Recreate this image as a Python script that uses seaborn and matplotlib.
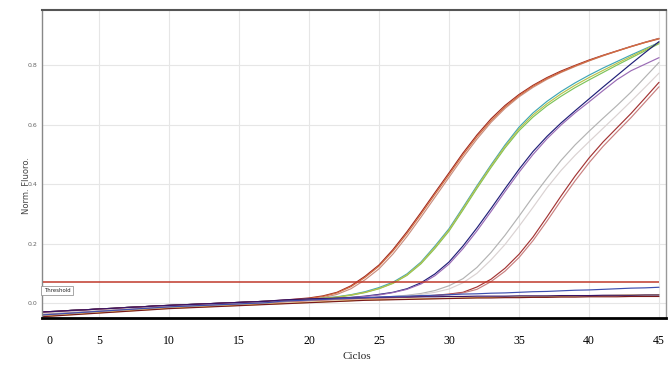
import numpy as np
import pandas as pd
import matplotlib
matplotlib.use("Agg")
import matplotlib.pyplot as plt
import seaborn as sns

# ---------------- data ----------------
cycles = list(range(1, 46))

A1 = [-0.030, -0.028, -0.025, -0.023, -0.020, -0.018, -0.015, -0.013, -0.010, -0.008, -0.006, -0.004, -0.002, 0.000, 0.002, 0.004, 0.006,
      0.009, 0.013, 0.017, 0.024, 0.036, 0.058, 0.090, 0.128, 0.180, 0.240, 0.305, 0.372, 0.438, 0.505, 0.566, 0.620, 0.665, 0.702,
      0.733, 0.759, 0.781, 0.800, 0.818, 0.834, 0.849, 0.864, 0.878, 0.891]
A2 = [-0.040, -0.037, -0.034, -0.031, -0.028, -0.025, -0.022, -0.019, -0.016, -0.013, -0.011, -0.009, -0.007, -0.005, -0.003, -0.001, 0.001,
      0.005, 0.008, 0.012, 0.018, 0.029, 0.048, 0.078, 0.115, 0.165, 0.224, 0.289, 0.356, 0.423, 0.490, 0.552, 0.608, 0.655, 0.694,
      0.726, 0.753, 0.776, 0.796, 0.815, 0.832, 0.848, 0.863, 0.877, 0.890]
A3 = [-0.035, -0.032, -0.030, -0.027, -0.024, -0.021, -0.019, -0.016, -0.013, -0.011, -0.009, -0.007, -0.005, -0.003, -0.001, 0.001, 0.003,
      0.006, 0.010, 0.015, 0.022, 0.034, 0.055, 0.086, 0.124, 0.175, 0.234, 0.299, 0.366, 0.432, 0.499, 0.560, 0.614, 0.660, 0.698,
      0.730, 0.756, 0.778, 0.798, 0.816, 0.833, 0.848, 0.863, 0.877, 0.889]
B1 = [-0.030, -0.028, -0.025, -0.023, -0.020, -0.018, -0.015, -0.013, -0.010, -0.008, -0.006, -0.004, -0.002, 0.000, 0.002, 0.004, 0.006,
      0.008, 0.010, 0.013, 0.016, 0.021, 0.028, 0.038, 0.052, 0.070, 0.098, 0.138, 0.192, 0.250, 0.322, 0.395, 0.465, 0.532, 0.592,
      0.640, 0.679, 0.712, 0.741, 0.767, 0.791, 0.813, 0.835, 0.856, 0.877]
B2 = [-0.040, -0.037, -0.034, -0.031, -0.028, -0.025, -0.022, -0.019, -0.016, -0.013, -0.011, -0.009, -0.007, -0.005, -0.003, -0.001, 0.001,
      0.004, 0.007, 0.010, 0.014, 0.019, 0.026, 0.035, 0.048, 0.066, 0.093, 0.132, 0.184, 0.242, 0.313, 0.386, 0.456, 0.522, 0.580,
      0.626, 0.664, 0.696, 0.725, 0.751, 0.776, 0.801, 0.825, 0.849, 0.873]
B3 = [-0.035, -0.032, -0.030, -0.027, -0.024, -0.021, -0.019, -0.016, -0.013, -0.011, -0.009, -0.007, -0.005, -0.003, -0.001, 0.001, 0.003,
      0.006, 0.009, 0.012, 0.016, 0.020, 0.027, 0.036, 0.049, 0.067, 0.095, 0.135, 0.188, 0.246, 0.318, 0.391, 0.461, 0.527, 0.586,
      0.633, 0.671, 0.704, 0.733, 0.759, 0.783, 0.807, 0.830, 0.853, 0.876]
C1 = [-0.030, -0.028, -0.025, -0.023, -0.020, -0.018, -0.015, -0.013, -0.010, -0.008, -0.006, -0.004, -0.002, 0.000, 0.002, 0.004, 0.006,
      0.008, 0.010, 0.012, 0.014, 0.016, 0.019, 0.023, 0.029, 0.036, 0.048, 0.068, 0.098, 0.138, 0.192, 0.253, 0.318, 0.385, 0.450,
      0.510, 0.561, 0.606, 0.647, 0.687, 0.727, 0.766, 0.805, 0.843, 0.880]
C2 = [-0.035, -0.032, -0.030, -0.027, -0.024, -0.021, -0.019, -0.016, -0.013, -0.011, -0.009, -0.007, -0.005, -0.003, -0.001, 0.001, 0.003,
      0.006, 0.008, 0.011, 0.013, 0.015, 0.018, 0.022, 0.027, 0.035, 0.046, 0.064, 0.092, 0.131, 0.183, 0.243, 0.308, 0.375, 0.440,
      0.500, 0.553, 0.599, 0.640, 0.677, 0.715, 0.752, 0.782, 0.804, 0.826]
D1 = [-0.040, -0.037, -0.034, -0.031, -0.028, -0.025, -0.022, -0.019, -0.016, -0.013, -0.011, -0.009, -0.007, -0.005, -0.003, -0.001, 0.001,
      0.004, 0.006, 0.009, 0.011, 0.013, 0.015, 0.017, 0.019, 0.022, 0.026, 0.032, 0.042, 0.058, 0.082, 0.120, 0.170, 0.228, 0.292,
      0.358, 0.420, 0.480, 0.532, 0.578, 0.622, 0.665, 0.710, 0.760, 0.810]
D2 = [-0.035, -0.032, -0.030, -0.027, -0.024, -0.021, -0.019, -0.016, -0.013, -0.011, -0.009, -0.007, -0.005, -0.003, -0.001, 0.001, 0.003,
      0.005, 0.007, 0.009, 0.011, 0.013, 0.015, 0.017, 0.019, 0.021, 0.024, 0.029, 0.036, 0.047, 0.068, 0.100, 0.145, 0.197, 0.258,
      0.322, 0.388, 0.446, 0.497, 0.543, 0.588, 0.633, 0.679, 0.726, 0.774]
E1 = [-0.030, -0.028, -0.025, -0.023, -0.020, -0.018, -0.015, -0.013, -0.010, -0.008, -0.006, -0.004, -0.002, 0.000, 0.002, 0.004, 0.006,
      0.008, 0.010, 0.012, 0.013, 0.014, 0.015, 0.016, 0.018, 0.019, 0.021, 0.023, 0.026, 0.030, 0.036, 0.054, 0.080, 0.117, 0.164,
      0.222, 0.290, 0.360, 0.427, 0.488, 0.542, 0.590, 0.638, 0.690, 0.743]
E2 = [-0.040, -0.037, -0.034, -0.031, -0.028, -0.025, -0.022, -0.019, -0.016, -0.013, -0.011, -0.009, -0.007, -0.005, -0.003, -0.001, 0.001,
      0.003, 0.005, 0.007, 0.009, 0.011, 0.013, 0.014, 0.016, 0.017, 0.019, 0.021, 0.024, 0.028, 0.034, 0.046, 0.072, 0.107, 0.153,
      0.210, 0.276, 0.345, 0.411, 0.472, 0.527, 0.576, 0.624, 0.676, 0.728]
F1 = [-0.040, -0.037, -0.034, -0.031, -0.028, -0.025, -0.022, -0.019, -0.016, -0.013, -0.011, -0.009, -0.007, -0.005, -0.003, -0.001, 0.001,
      0.006, 0.008, 0.010, 0.012, 0.014, 0.016, 0.018, 0.020, 0.022, 0.023, 0.025, 0.026, 0.028, 0.030, 0.031, 0.033, 0.034, 0.036,
      0.038, 0.039, 0.041, 0.043, 0.044, 0.046, 0.048, 0.050, 0.051, 0.053]
F2 = [-0.030, -0.028, -0.025, -0.023, -0.020, -0.018, -0.015, -0.013, -0.010, -0.008, -0.006, -0.004, -0.002, 0.000, 0.002, 0.004, 0.006,
      0.010, 0.012, 0.014, 0.015, 0.016, 0.017, 0.018, 0.019, 0.020, 0.020, 0.021, 0.021, 0.022, 0.022, 0.023, 0.023, 0.023, 0.024,
      0.024, 0.024, 0.025, 0.025, 0.025, 0.026, 0.026, 0.026, 0.027, 0.027]
F3 = [-0.045, -0.042, -0.039, -0.036, -0.033, -0.030, -0.027, -0.024, -0.021, -0.018, -0.016, -0.014, -0.012, -0.010, -0.008, -0.006, -0.004,
      -0.002, 0.000, 0.002, 0.004, 0.006, 0.008, 0.010, 0.011, 0.012, 0.013, 0.014, 0.015, 0.016, 0.017, 0.018, 0.019, 0.020, 0.021,
      0.021, 0.022, 0.022, 0.023, 0.024, 0.025, 0.026, 0.027, 0.027, 0.028]
F4 = [-0.046, -0.043, -0.040, -0.037, -0.034, -0.031, -0.028, -0.025, -0.022, -0.019, -0.017, -0.015, -0.013, -0.011, -0.009, -0.007, -0.005,
      -0.003, -0.001, 0.001, 0.003, 0.005, 0.007, 0.009, 0.010, 0.011, 0.012, 0.013, 0.014, 0.015, 0.016, 0.017, 0.017, 0.018, 0.018,
      0.019, 0.019, 0.020, 0.020, 0.021, 0.021, 0.021, 0.022, 0.022, 0.022]

threshold = 0.072
x_tick_values = [5, 10, 15, 20, 25, 30, 35, 40, 45]
x_tick_labels = ["5", "10", "15", "20", "25", "30", "35", "40", "45"]
zero_label_pos = 1.43
y_tick_values = [0.0, 0.2, 0.4, 0.6, 0.8]
y_tick_labels = ["0.0", "0.2", "0.4", "0.6", "0.8"]

series = {"A1": A1, "A2": A2, "A3": A3, "B1": B1, "B2": B2, "B3": B3,
          "C1": C1, "C2": C2, "D1": D1, "D2": D2, "E1": E1, "E2": E2,
          "F3": F3, "F4": F4, "F2": F2, "F1": F1}
palette = {"A1": "#9e2a22", "A2": "#c98f80", "A3": "#d2693e",
           "B1": "#3fa6b5", "B2": "#7cc35a", "B3": "#b9c24a",
           "C1": "#1f1f78", "C2": "#9a6bb5",
           "D1": "#b3b3b3", "D2": "#dad2d2",
           "E1": "#a33434", "E2": "#c98080",
           "F1": "#3d4fb0", "F2": "#3a1466", "F3": "#e6c95a", "F4": "#7a1a1a"}

rows = []
for name, vals in series.items():
    for c, v in zip(cycles, vals):
        rows.append((name, c, v))
df = pd.DataFrame(rows, columns=["well", "cycle", "value"])

# ---------------- figure ----------------
sns.set_style("white")
fig = plt.figure(figsize=(6.71, 3.66), dpi=100)
ax = fig.add_axes([42/671, 48/366, 624/671, 308/366])

sns.lineplot(data=df, x="cycle", y="value", hue="well", hue_order=list(series.keys()),
             palette=palette, legend=False, linewidth=0.85, estimator=None, sort=False, ax=ax)

ax.hlines(threshold, cycles[0], cycles[-1], color="#c0392b", linewidth=1.1, zorder=5)

ax.set_xlim(0.93, 45.5)
ax.set_ylim(-0.0505, 0.9865)

ax.set_xticks(x_tick_values)
ax.set_xticklabels(x_tick_labels, family="Liberation Serif", fontsize=8.5)
ax.set_xticks([zero_label_pos], ["0"], minor=True)
for lab in ax.get_xticklabels(minor=True):
    lab.set_family("Liberation Serif")
    lab.set_fontsize(8.5)
ax.tick_params(axis="x", which="both", length=0, pad=12, colors="black")

ax.set_yticks(y_tick_values)
ax.set_yticklabels(y_tick_labels, fontsize=4.5, color="#666666")
ax.tick_params(axis="y", length=2, width=0.6, pad=1, color="#888888")

ax.grid(True, which="major", color="#e6e6e6", linewidth=0.8)
ax.grid(False, which="minor")
ax.set_axisbelow(True)

ax.set_xlabel("Ciclos", family="Liberation Serif", fontsize=8)
ax.xaxis.set_label_coords(0.505, -0.11)
ax.set_ylabel("Norm. Fluoro.", fontsize=6, color="#444444")
ax.yaxis.set_label_coords(-0.017, 0.43)

ax.text(0.003, 0.089, "Threshold", transform=ax.transAxes, fontsize=4.3,
        family="DejaVu Sans", fontstretch="condensed", va="center", ha="left",
        bbox=dict(boxstyle="square,pad=0.4", facecolor="white", edgecolor="#999999", linewidth=0.6),
        zorder=6)

for side, col, lw in [("left", "#888888", 1.0), ("top", "#555555", 1.5),
                      ("right", "#999999", 1.0), ("bottom", "#000000", 2.0)]:
    ax.spines[side].set_visible(True)
    ax.spines[side].set_color(col)
    ax.spines[side].set_linewidth(lw)

fig.savefig("out.png", dpi=100)
